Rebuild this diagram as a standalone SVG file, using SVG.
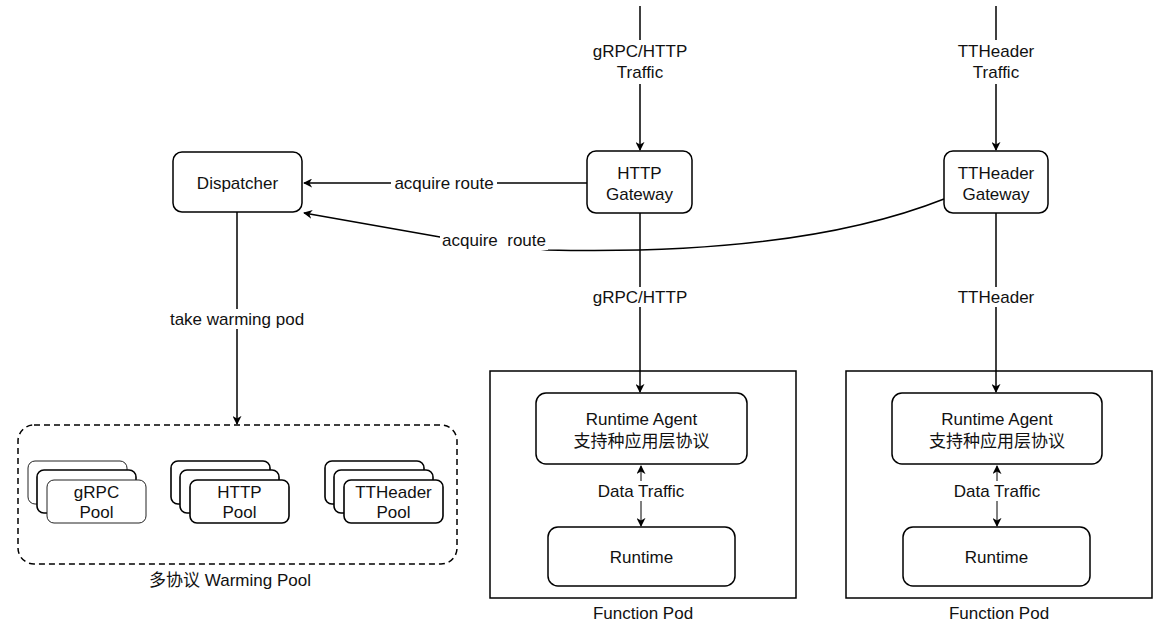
<svg xmlns="http://www.w3.org/2000/svg" width="1172" height="625" viewBox="0 0 1172 625">
<defs>
<marker id="arr" viewBox="0 0 10 10" refX="9" refY="5" markerWidth="9" markerHeight="9" markerUnits="userSpaceOnUse" orient="auto-start-reverse">
<path d="M0,0 L10,5 L0,10 L3,5 z" fill="#000"/>
</marker>
<style>
text{font-family:"Liberation Sans",Arial,"Noto Sans CJK SC",sans-serif;font-size:17px;fill:#111;text-anchor:middle}
.box{fill:#fff;stroke:#000;stroke-width:1.5}
.pod{fill:#fff;stroke:#000;stroke-width:1.5}
.card{fill:#fff;stroke:#000;stroke-width:1.6}
.thin{fill:#fff;stroke:#222;stroke-width:1}
.ln{fill:none;stroke:#000;stroke-width:1.5}
.ln2{fill:none;stroke:#000;stroke-width:1}
.bg{fill:#fff}
</style>
</defs>
<rect width="1172" height="625" fill="#fff"/>

<g id="pod1">
<rect class="pod" x="490" y="371" width="306" height="227"/>
<text x="643" y="619">Function Pod</text>
</g>
<g id="pod2">
<rect class="pod" x="846" y="371" width="306" height="227"/>
<text x="999" y="619">Function Pod</text>
</g>
<g id="warming-pool">
<rect x="18" y="425" width="439" height="139" rx="16" fill="none" stroke="#000" stroke-width="1.5" stroke-dasharray="6 4"/>
<text x="230" y="586">多协议 Warming Pool</text>
</g>

<g id="connectors">
<line class="ln" x1="640" y1="6" x2="640" y2="150" marker-end="url(#arr)"/>
<line class="ln" x1="996" y1="6" x2="996" y2="150" marker-end="url(#arr)"/>
<line class="ln" x1="587" y1="183" x2="304" y2="183" marker-end="url(#arr)"/>
<path class="ln" d="M944,199 Q800,256 547,250 L440,237 L304,213" marker-end="url(#arr)"/>
<line class="ln" x1="237" y1="212" x2="237" y2="424" marker-end="url(#arr)"/>
<line class="ln" x1="640" y1="213" x2="640" y2="392" marker-end="url(#arr)"/>
<line class="ln" x1="996" y1="213" x2="996" y2="392" marker-end="url(#arr)"/>
<line class="ln2" x1="641" y1="466" x2="641" y2="526" marker-start="url(#arr)" marker-end="url(#arr)"/>
<line class="ln2" x1="997" y1="466" x2="997" y2="526" marker-start="url(#arr)" marker-end="url(#arr)"/>
<rect class="bg" x="592" y="40" width="96" height="44"/>
<text x="640" y="57">gRPC/HTTP</text>
<text x="640" y="78">Traffic</text>
<rect class="bg" x="952" y="40" width="88" height="44"/>
<text x="996" y="57">TTHeader</text>
<text x="996" y="78">Traffic</text>
<rect class="bg" x="391" y="173" width="106" height="20"/>
<text x="444" y="189">acquire route</text>
<rect class="bg" x="440" y="230" width="108" height="20"/>
<text x="494" y="246" style="white-space:pre">acquire  route</text>
<rect class="bg" x="165" y="309" width="144" height="20"/>
<text x="237" y="325">take warming pod</text>
<rect class="bg" x="592" y="287" width="96" height="20"/>
<text x="640" y="303">gRPC/HTTP</text>
<rect class="bg" x="954" y="287" width="84" height="20"/>
<text x="996" y="303">TTHeader</text>
<rect class="bg" x="594" y="481" width="94" height="20"/>
<text x="641" y="497">Data Traffic</text>
<rect class="bg" x="950" y="481" width="94" height="20"/>
<text x="997" y="497">Data Traffic</text>
</g>

<g id="dispatcher">
<rect class="box" x="173" y="152" width="129" height="60" rx="9"/>
<text x="237.5" y="189">Dispatcher</text>
</g>
<g id="http-gateway">
<rect class="box" x="587" y="151" width="105" height="62" rx="9"/>
<text x="639.5" y="179">HTTP</text>
<text x="639.5" y="200">Gateway</text>
</g>
<g id="ttheader-gateway">
<rect class="box" x="944" y="151" width="104" height="62" rx="9"/>
<text x="996" y="179">TTHeader</text>
<text x="996" y="200">Gateway</text>
</g>
<g id="runtime-agent-1">
<rect class="box" x="536" y="393" width="211" height="71" rx="10"/>
<text x="641.5" y="425">Runtime Agent</text>
<text x="641.5" y="447">支持种应用层协议</text>
</g>
<g id="runtime-1">
<rect class="box" x="548" y="527" width="187" height="59" rx="10"/>
<text x="641.5" y="563">Runtime</text>
</g>
<g id="runtime-agent-2">
<rect class="box" x="892" y="393" width="210" height="71" rx="10"/>
<text x="997" y="425">Runtime Agent</text>
<text x="997" y="447">支持种应用层协议</text>
</g>
<g id="runtime-2">
<rect class="box" x="903" y="527" width="187" height="59" rx="10"/>
<text x="996.5" y="563">Runtime</text>
</g>
<g id="grpc-pool">
<rect class="thin" x="28" y="461" width="99" height="43" rx="7"/>
<rect class="card" x="37" y="470" width="99" height="43" rx="7"/>
<rect class="thin" x="47" y="480" width="99" height="43" rx="7"/>
<text x="96.5" y="498">gRPC</text>
<text x="96.5" y="518">Pool</text>
</g>
<g id="http-pool">
<rect class="card" x="171" y="461" width="99" height="43" rx="7"/>
<rect class="card" x="180" y="470" width="99" height="43" rx="7"/>
<rect class="card" x="190" y="480" width="99" height="43" rx="7"/>
<text x="239.5" y="498">HTTP</text>
<text x="239.5" y="518">Pool</text>
</g>
<g id="ttheader-pool">
<rect class="card" x="325" y="461" width="99" height="43" rx="7"/>
<rect class="card" x="334" y="470" width="99" height="43" rx="7"/>
<rect class="card" x="344" y="480" width="99" height="43" rx="7"/>
<text x="393.5" y="498">TTHeader</text>
<text x="393.5" y="518">Pool</text>
</g>
</svg>
